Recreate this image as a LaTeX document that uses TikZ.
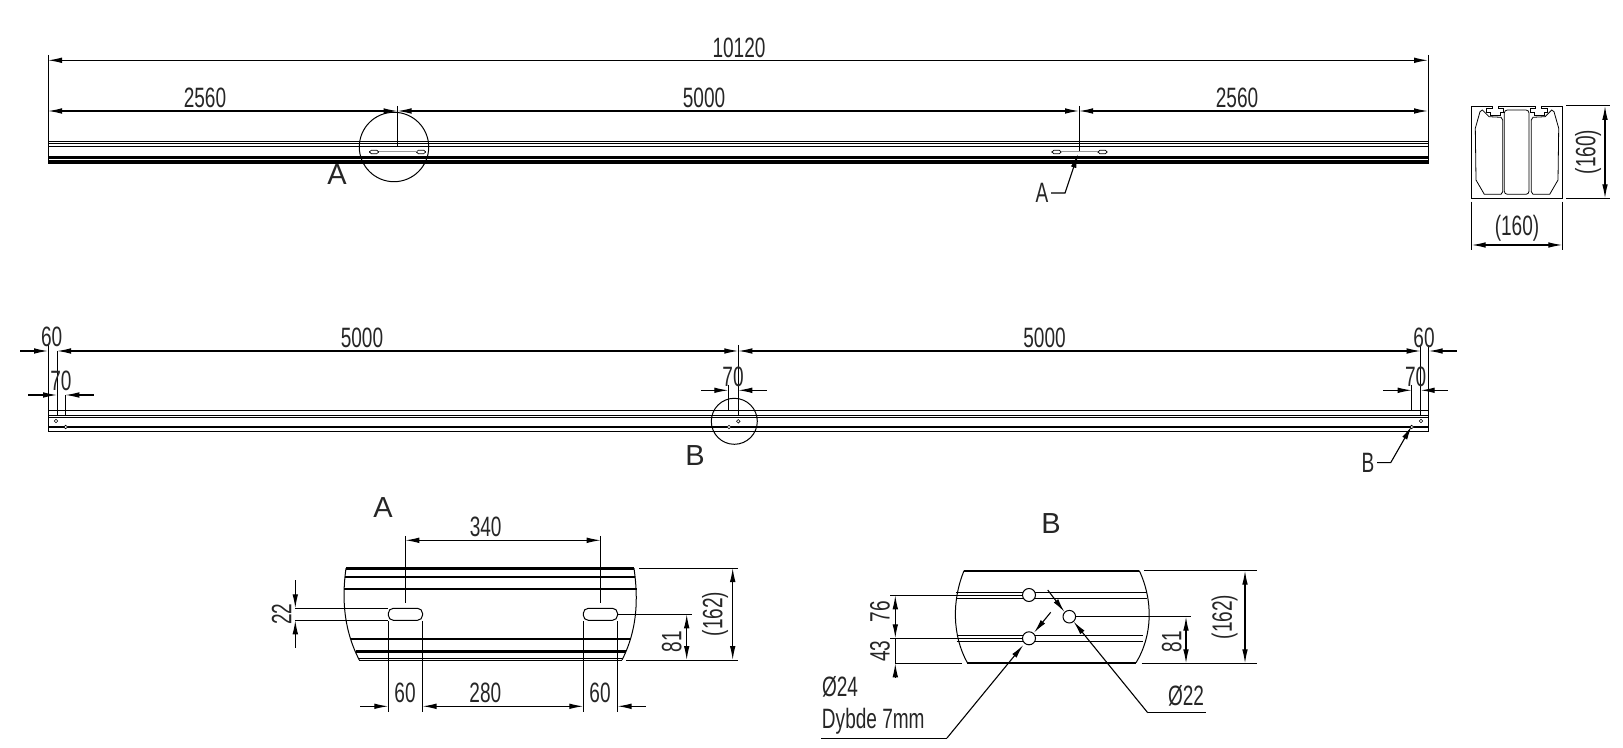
\documentclass[tikz,border=0pt]{standalone}
\usepackage{fontspec}
\setmainfont{Liberation Sans}
\newfontfamily\dimfont[FakeStretch=0.68]{Liberation Sans}
\usetikzlibrary{arrows.meta}
\tikzstyle{dimline}=[line width=0.55pt,>={Latex[length=7pt,width=2.8pt]}]
\tikzstyle{thin line}=[line width=0.5pt]
\tikzstyle{thick line}=[line width=1.2pt]
\tikzstyle{dimtext}=[font=\dimfont\fontsize{14}{14}\selectfont,text=black!85,inner sep=0]
\tikzstyle{viewtext}=[font=\fontsize{14.5}{14.5}\selectfont,text=black!85,inner sep=0]
\begin{document}
\begin{tikzpicture}[x=0.5pt,y=-0.5pt,thin line]
\useasboundingbox (0,0) rectangle (1623,748);
% top view
\foreach \y in {141.7,143.6,146.3}
\draw (48,\y) -- (1428,\y);
\draw[thick line] (48,157.7) -- (1428,157.7);
\fill (48,160) rectangle (1428,163.8);
\draw (48,55) -- (48,164);
\draw (1428,55) -- (1428,164);
\draw (397.5,106) -- (397.5,146);
\draw (1079,106) -- (1079,152);
\draw (394,147) circle (34.7);
\foreach \x in {374,421,1056.5,1102.5}
\draw[fill=white,line width=0.35pt,rounded corners=0.85pt] (\x-4.5,150.3) rectangle (\x+4.5,153.7);
\draw[black!40] (378.5,152) -- (416.5,152);
\draw[black!40] (1061,152) -- (1098,152);
\draw[dimline,<->] (48,60.3) -- (1428,60.3);
\draw[dimline,<->] (48,111) -- (397.5,111);
\draw[dimline,<->] (397.5,111) -- (1079,111);
\draw[dimline,<->] (1079,111) -- (1428,111);
\draw[dimline,->] (1051,193) -- (1065,193) -- (1078,154);
\node[dimtext] (len) at (739,48) {10120};
\node[dimtext] (left) at (205,98) {2560};
\node[dimtext] (mid) at (704,98) {5000};
\node[dimtext] (right) at (1237,98) {2560};
\node[dimtext] (refa) at (1042,193) {A};
\node[viewtext] (markA) at (337,175) {A};
% section
\foreach \m in {1,-1}{
\begin{scope}[shift={(1517,0)},xscale=\m,line width=0.4pt]
\draw (0,106) -- (-18.7,106) -- (-18.7,108) -- (-13.7,108) -- (-13.7,112) -- (-17,112) -- (-17,115.5) -- (-27,115.5) -- (-27,112) -- (-30.3,112) -- (-30.3,108) -- (-24.7,108) -- (-24.7,106) -- (-45.3,106) -- (-45.3,198.3) -- (0,198.3);
\draw (-41.7,128.3) -- (-37,111.7) -- (-34.7,110) -- (-28,116.7) -- (-16,117.3) -- (-14.3,120) -- (-14.3,191.7) -- (-16,194.3) -- (-32.7,194.3) -- (-41,180) -- cycle;
\end{scope}
}
\draw[line width=0.4pt,rounded corners=1.5pt] (1504.3,110) rectangle (1529,194.3);
\draw (1471.7,201.7) -- (1471.7,250);
\draw (1562.3,201.7) -- (1562.3,250);
\draw (1566,106) -- (1610,106);
\draw (1566,198.3) -- (1610,198.3);
\draw[dimline,<->] (1471.7,245) -- (1562.3,245);
\draw[dimline,<->] (1605,106) -- (1605,198.3);
\node[dimtext] (secw) at (1517,228) {(160)};
\node[dimtext,rotate=90] (sech) at (1588,152) {(160)};
% side view
\foreach \y in {410.2,415.7,417.3,432}
\draw (48,\y) -- (1428.7,\y);
\draw[thick line] (48,427) -- (1428.7,427);
\draw (48,345) -- (48,432);
\draw (1428.7,345) -- (1428.7,432);
\draw (57,351) -- (57,415);
\draw (65.3,395) -- (65.3,415);
\draw (738.3,345) -- (738.3,415);
\draw (728.3,385) -- (728.3,410);
\draw (1420.7,345) -- (1420.7,415);
\draw (1411.7,385) -- (1411.7,410);
\draw (734.3,421.3) circle (23);
\foreach \x/\y in {56/421,65.7/427,738.3/421.3,729/427,1421/421,1411.7/427}
\draw[fill=white,line width=0.3pt] (\x,\y) circle (1.8);
\draw[dimline,->] (20,351) -- (48,351);
\draw[dimline,<->] (57,351) -- (738.3,351);
\draw[dimline,<->] (738.3,351) -- (1420.7,351);
\draw[dimline,<-] (1428.7,351) -- (1456.7,351);
\draw[dimline,->] (28,395) -- (57,395);
\draw[dimline,<-] (65.3,395) -- (94,395);
\draw[dimline,->] (701,390.3) -- (728.3,390.3);
\draw[dimline,<-] (738.3,390.3) -- (766.7,390.3);
\draw[dimline,->] (1383,390.3) -- (1411.7,390.3);
\draw[dimline,<-] (1420.7,390.3) -- (1448,390.3);
\draw[dimline,->] (1377,462.7) -- (1390.7,462.7) -- (1411.7,426);
\node[dimtext] (enda) at (51.7,337) {60};
\node[dimtext] (halfa) at (362,338) {5000};
\node[dimtext] (halfb) at (1044.5,338) {5000};
\node[dimtext] (endb) at (1424,338) {60};
\node[dimtext] (sa) at (61,381) {70};
\node[dimtext] (sb) at (733,377) {70};
\node[dimtext] (sc) at (1415.7,377) {70};
\node[dimtext] (refb) at (1368,463) {B};
\node[viewtext] (markB) at (695,456) {B};
% detail A
\draw[thick line] (346,568.3) -- (634,568.3);
\draw[line width=0.9pt] (345,577) -- (635,577);
\draw[thick line] (344.3,589) -- (636.7,589);
\draw[thick line] (351,639) -- (630,639);
\draw[thick line] (356,651.3) -- (626,651.3);
\draw (358,658) -- (623,658);
\draw (359.3,660) -- (622,660);
\draw (346,568.3) .. controls (343,590) and (341,625) .. (359.3,660);
\draw (634,568.3) .. controls (637,590) and (640,625) .. (622,660);
\foreach \x in {388.3,583.3}
\draw[fill=white,rounded corners=2.5pt] (\x,608.3) rectangle (\x+34.2,620.3);
\draw (405.3,536) -- (405.3,602.7);
\draw (600.7,536) -- (600.7,602.7);
\draw (295,608.3) -- (388.3,608.3);
\draw (295,620.3) -- (388.3,620.3);
\draw (617.6,614.3) -- (691.7,614.3);
\draw (639.3,568) -- (738,568);
\draw (626,660) -- (738,660);
\foreach \x in {388.3,422.5,583.3,617.5}
\draw (\x,621) -- (\x,711.7);
\draw[dimline,<->] (405.3,540.3) -- (600.7,540.3);
\draw[dimline,->] (295.3,580) -- (295.3,608.3);
\draw[dimline,<-] (295.3,620.3) -- (295.3,648);
\draw[dimline,<->] (686.7,614.3) -- (686.7,660);
\draw[dimline,<->] (732.7,568) -- (732.7,660);
\draw[dimline,->] (360,706.3) -- (388.3,706.3);
\draw[dimline,<->] (422.5,706.3) -- (583.3,706.3);
\draw[dimline,<-] (617.5,706.3) -- (646,706.3);
\node[viewtext] (titleA) at (383,508) {A};
\node[dimtext] (slotc) at (485.7,527) {340};
\node[dimtext,rotate=90] (sloth) at (281.7,614.3) {22};
\node[dimtext,rotate=90] (slotm) at (671.7,641.7) {81};
\node[dimtext,rotate=90] (detah) at (715,614) {(162)};
\node[dimtext] (slotw) at (405,693) {60};
\node[dimtext] (slots) at (485.3,693) {280};
\node[dimtext] (slotx) at (600,693) {60};
% detail B
\draw[thick line] (964,570.7) -- (1139.3,570.7);
\draw[thick line] (967.3,662.7) -- (1136,662.7);
\draw (964,570.7) .. controls (952,600) and (952,635) .. (967.3,662.7);
\draw (1139.3,570.7) .. controls (1153,600) and (1153,635) .. (1136,662.7);
\foreach \y in {592.7,598.3}
\draw (956,\y) -- (1146.7,\y);
\foreach \y in {635.7,641.7}
\draw (956.7,\y) -- (1142.7,\y);
\draw (890,595.3) -- (1029,595.3);
\draw (890,638.3) -- (1029,638.3);
\draw (895,663.3) -- (961.7,663.3);
\draw (1075.7,616.7) -- (1190.7,616.7);
\draw (1144,570.7) -- (1257,570.7);
\draw (1141.7,663.3) -- (1257,663.3);
\foreach \x/\y/\r in {1029/595/6.5,1029/638.3/6.5,1069.3/616.7/6.3}
\draw[fill=white] (\x,\y) circle (\r);
\draw[dimline,->] (895.3,617) -- (895.3,595.3);
\draw[dimline,->] (895.3,617) -- (895.3,638.3);
\draw[dimline,->] (895.3,677) -- (895.3,663.3);
\draw (895.3,638.3) -- (895.3,663.3);
\draw[dimline,<->] (1186,616.7) -- (1186,663.3);
\draw[dimline,<->] (1245,570.7) -- (1245,663.3);
\draw[dimline,->] (1047.7,590) -- (1064.5,612);
\draw[dimline,->] (1147.7,712.7) -- (1073.5,621.5);
\draw (1147.7,712.7) -- (1206,712.7);
\draw[dimline,->] (1050.7,612.3) -- (1034,632.7);
\draw[dimline,->] (947,738) -- (1023.3,645);
\draw (821,738) -- (947,738);
\node[viewtext] (titleB) at (1051,524) {B};
\node[dimtext,rotate=90] (holeu) at (880,611.7) {76};
\node[dimtext,rotate=90] (holel) at (880,651) {43};
\node[dimtext,rotate=90] (holem) at (1171.7,641.7) {81};
\node[dimtext,rotate=90] (detbh) at (1224.6,617) {(162)};
\node[dimtext] (diab) at (1186,696) {Ø22};
\node[dimtext] (diaa) at (840,686.7) {Ø24};
\node[dimtext] (depth) at (873.3,721.7) {Dybde 7mm};
\end{tikzpicture}
\end{document}
